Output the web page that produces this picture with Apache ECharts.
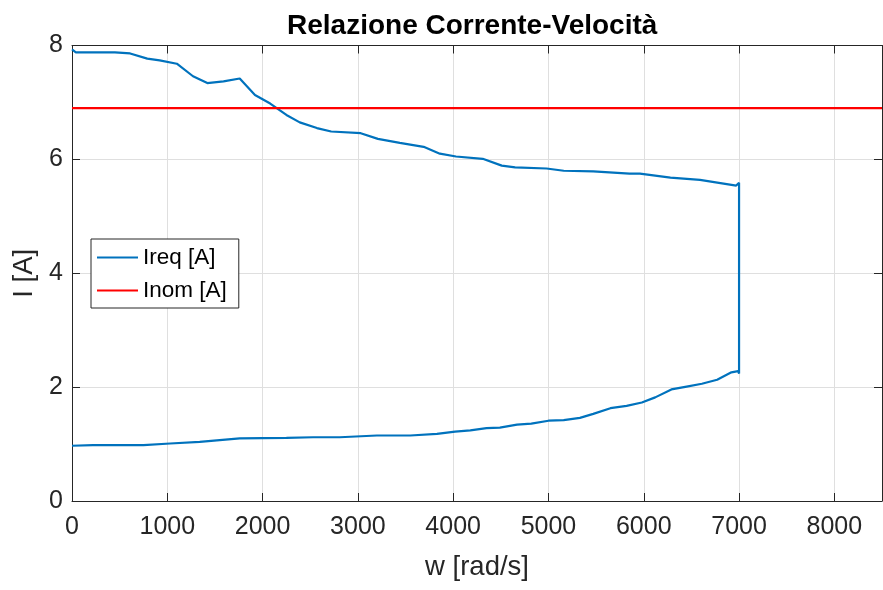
<!DOCTYPE html>
<html>
<head>
<meta charset="utf-8">
<script src="https://cdn.jsdelivr.net/npm/echarts@6/dist/echarts.min.js"></script>
<style>
  html, body { margin: 0; padding: 0; background: #fff; }
  #chart { width: 883px; height: 590px; }
</style>
</head>
<body>
<div id="chart"></div>
<script>
// tratto superiore della curva (w crescente)
var upperW = [0, 40, 450, 610, 790, 920, 1100, 1270, 1420, 1590, 1760, 1920, 2080, 2250, 2390, 2570, 2720, 3030, 3210, 3440, 3690, 3860, 4030, 4310, 4510, 4650, 4980, 5160, 5470, 5850, 5960, 6280, 6590, 6970, 7000];
var upperI = [7.93, 7.88, 7.88, 7.86, 7.77, 7.74, 7.68, 7.46, 7.34, 7.37, 7.42, 7.13, 6.98, 6.78, 6.65, 6.55, 6.49, 6.46, 6.36, 6.29, 6.22, 6.10, 6.05, 6.01, 5.89, 5.86, 5.84, 5.80, 5.79, 5.75, 5.75, 5.68, 5.64, 5.54, 5.59];
// tratto inferiore della curva (w crescente)
var lowerW = [0, 220, 750, 1030, 1340, 1760, 2250, 2530, 2810, 3200, 3550, 3830, 4020, 4180, 4350, 4490, 4670, 4820, 5000, 5160, 5330, 5470, 5650, 5820, 5980, 6120, 6290, 6450, 6610, 6770, 6920, 6990, 7000];
var lowerI = [0.97, 0.98, 0.98, 1.01, 1.04, 1.10, 1.11, 1.12, 1.12, 1.15, 1.15, 1.18, 1.22, 1.24, 1.28, 1.29, 1.34, 1.36, 1.41, 1.42, 1.46, 1.53, 1.63, 1.67, 1.73, 1.82, 1.96, 2.01, 2.06, 2.13, 2.26, 2.28, 2.24];
// corrente nominale
var nomW = [0, 8500];
var nomI = [6.9, 6.9];

var xTicks = [0, 1000, 2000, 3000, 4000, 5000, 6000, 7000, 8000];
var yTicks = [0, 2, 4, 6, 8];

var font = "'Liberation Sans', Arial, Helvetica, sans-serif";
var axisColor = '#262626';

// curva chiusa: sopra da sinistra a destra, poi sotto a ritroso
var reqData = [];
upperW.forEach(function (w, i) { reqData.push([w, upperI[i]]); });
for (var j = lowerW.length - 1; j >= 0; j--) reqData.push([lowerW[j], lowerI[j]]);
var nomData = nomW.map(function (w, i) { return [w, nomI[i]]; });

var chart = echarts.init(document.getElementById('chart'));

function xAx(pos, main) {
  return {
    type: 'value', position: pos, min: 0, max: 8500, interval: 1000,
    axisLine: { show: true, onZero: false, lineStyle: { color: axisColor, width: 1 } },
    axisTick: { show: true, inside: true, length: 8, lineStyle: { color: axisColor } },
    axisLabel: {
      show: main, color: axisColor, fontSize: 25, fontFamily: font, margin: 14,
      showMaxLabel: false,
      formatter: function (v) { return xTicks.indexOf(v) >= 0 ? String(v) : ''; }
    },
    splitLine: { show: main, lineStyle: { color: '#dfdfdf', width: 1 } },
    name: main ? 'w [rad/s]' : '', nameLocation: 'middle', nameGap: 52,
    nameTextStyle: { color: axisColor, fontSize: 27.5, fontFamily: font }
  };
}
function yAx(pos, main) {
  return {
    type: 'value', position: pos, min: 0, max: 8, interval: 2,
    axisLine: { show: true, onZero: false, lineStyle: { color: axisColor, width: 1 } },
    axisTick: { show: true, inside: true, length: 8, lineStyle: { color: axisColor } },
    axisLabel: {
      show: main, color: axisColor, fontSize: 25, fontFamily: font, margin: 9,
      formatter: function (v) { return yTicks.indexOf(v) >= 0 ? String(v) : ''; }
    },
    splitLine: { show: main, lineStyle: { color: '#dfdfdf', width: 1 } },
    name: main ? 'I [A]' : '', nameLocation: 'middle', nameGap: 26,
    nameTextStyle: { color: axisColor, fontSize: 27.5, fontFamily: font }
  };
}

var option = {
  animation: false,
  backgroundColor: '#fff',
  title: {
    text: 'Relazione Corrente-Velocità',
    left: 282, top: 7,
    textStyle: { color: '#000', fontSize: 28, fontWeight: 'bold', fontFamily: font }
  },
  grid: { left: 72, right: 1, top: 45.5, bottom: 89 },
  legend: {
    orient: 'vertical', left: 91, top: 239,
    backgroundColor: '#fff', borderColor: axisColor, borderWidth: 1,
    padding: [7, 12, 6, 6], itemGap: 10,
    itemWidth: 41, itemHeight: 2, icon: 'rect',
    textStyle: { color: '#000', fontSize: 22.5, fontFamily: font, lineHeight: 22 },
    data: ['Ireq [A]', 'Inom [A]']
  },
  xAxis: [xAx('bottom', true), xAx('top', false)],
  yAxis: [yAx('left', true), yAx('right', false)],
  series: [
    {
      name: 'Ireq [A]', type: 'line', data: reqData, showSymbol: false,
      lineStyle: { color: '#0072BD', width: 2.2 }, itemStyle: { color: '#0072BD' }
    },
    {
      name: 'Inom [A]', type: 'line', data: nomData, showSymbol: false,
      lineStyle: { color: '#FF0000', width: 2.2 }, itemStyle: { color: '#FF0000' }
    }
  ]
};
chart.setOption(option);
</script>
</body>
</html>
